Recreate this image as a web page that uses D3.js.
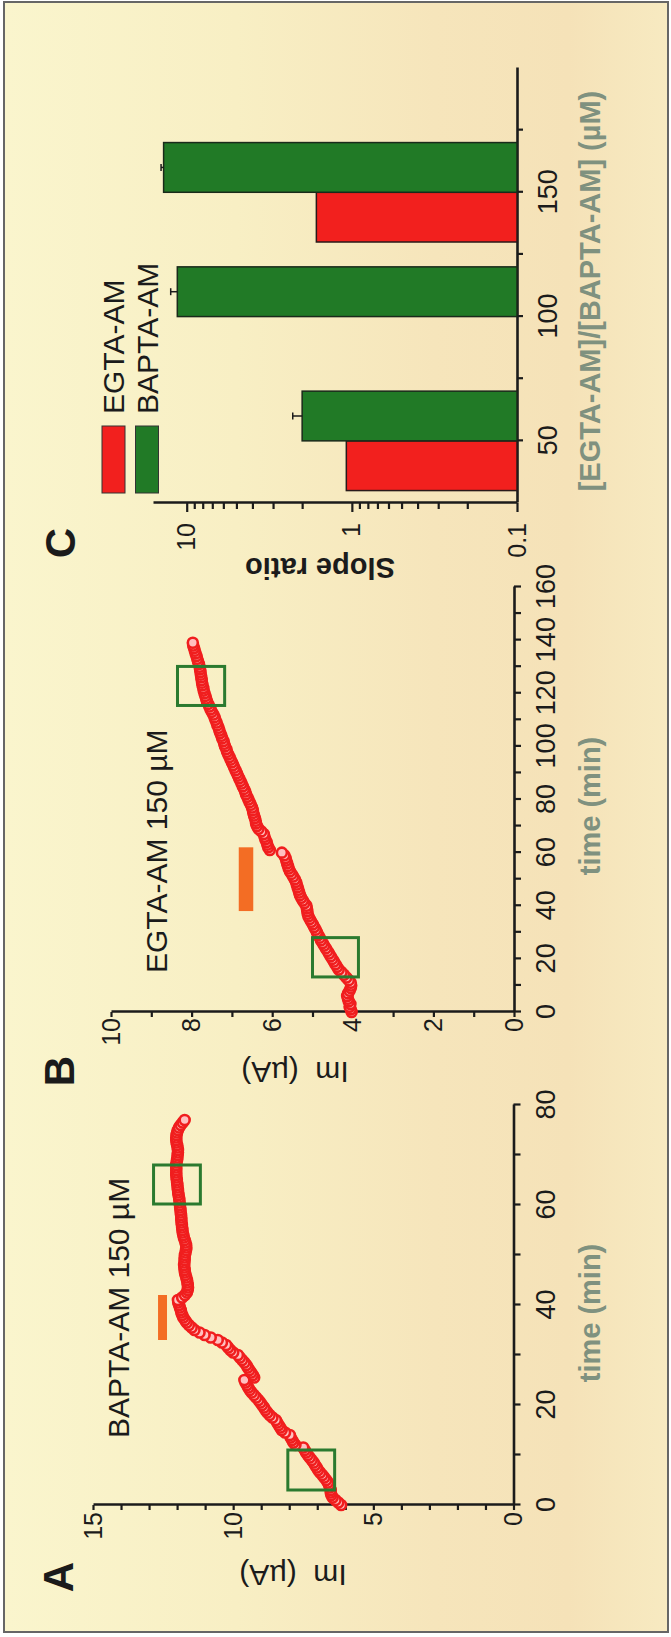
<!DOCTYPE html>
<html><head><meta charset="utf-8">
<script src="https://cdn.jsdelivr.net/npm/d3@7"></script>
<style>
body{margin:0;background:#fff;}
svg{display:block;font-family:"Liberation Sans",Arial,Helvetica,sans-serif;}
</style></head><body>
<svg id="chart" width="671" height="1637"></svg>
<script>
// ---------------- DATA ----------------
// Panel A: BAPTA-AM 150 µM (time in min, Im in µA)
const timeA = [0,0.5,1,1.5,2,2.5,3,3.5,4,4.5,5,5.5,6,6.5,7,7.5,8,8.5,9,9.5,10,10.5,11,11.5,12,12.5,13,13.5,14,14.5,15,15.5,16,16.5,17,17.5,18,18.5,19,19.5,20,20.5,21,21.5,22,22.5,23,23.5,24,24.5,25,25.5,26,26.5,27,27.5,28,28.5,29,29.5,30,30.5,31,31.5,32,32.5,33,33.5,34,34.5,35,35.5,36,36.5,37,37.5,38,38.5,39,39.5,40,40.5,41,41.5,42,42.5,43,43.5,44,44.5,45,45.5,46,46.5,47,47.5,48,48.5,49,49.5,50,50.5,51,51.5,52,52.5,53,53.5,54,54.5,55,55.5,56,56.5,57,57.5,58,58.5,59,59.5,60,60.5,61,61.5,62,62.5,63,63.5,64,64.5,65,65.5,66,66.5,67,67.5,68,68.5,69,69.5,70,70.5,71,71.5,72,72.5,73,73.5,74,74.5,75,75.5,76,76.5,77];
const imA = [6.15,6.25,6.35,6.45,6.5,6.52,6.52,6.55,6.58,6.62,
6.68,6.75,6.82,6.9,6.97,7.02,7.08,7.13,7.2,7.27,
7.34,7.4,7.45,7.5,7.78,7.85,7.9,7.95,7.98,8.15,
8.27,8.32,8.38,8.43,8.48,8.6,8.7,8.78,8.85,8.9,
8.97,9.03,9.1,9.18,9.26,9.34,9.41,9.46,9.51,9.56,
9.6,9.25,9.3,9.36,9.42,9.48,9.53,9.6,9.68,9.76,
9.83,10.0,10.1,10.18,10.25,10.4,10.55,10.8,11.02,11.2,
11.38,11.48,11.58,11.66,11.72,11.78,11.82,11.85,11.87,11.9,
11.93,11.96,11.97,11.82,11.72,11.65,11.62,11.61,11.62,11.63,
11.65,11.67,11.7,11.72,11.73,11.74,11.75,11.74,11.73,11.73,
11.72,11.7,11.68,11.67,11.68,11.7,11.73,11.76,11.78,11.8,
11.81,11.82,11.83,11.84,11.85,11.85,11.86,11.87,11.88,11.89,
11.9,11.91,11.92,11.93,11.95,11.96,11.97,11.98,11.99,12.0,
12.01,12.02,12.03,12.03,12.03,12.03,12.03,12.02,12.0,11.99,
11.98,11.97,11.97,11.98,12.0,12.02,12.03,12.03,12.02,12.0,
11.97,11.93,11.87,11.8,11.73];

// Panel B: EGTA-AM 150 µM
const timeB = [0,1,2,3,4,5,6,7,8,9,10,11,12,13,14,15,16,17,18,19,20,21,22,23,24,25,26,27,28,29,30,31,32,33,34,35,36,37,38,39,40,41,42,43,44,45,46,47,48,49,50,51,52,53,54,55,56,57,58,59,60,61,62,63,64,65,66,67,68,69,70,71,72,73,74,75,76,77,78,79,80,81,82,83,84,85,86,87,88,89,90,91,92,93,94,95,96,97,98,99,100,101,102,103,104,105,106,107,108,109,110,111,112,113,114,115,116,117,118,119,120,121,122,123,124,125,126,127,128,129,130,131,132,133,134,135,136,137,138,139];
const imB = [4.03,4.05,4.08,4.06,4.1,4.12,4.14,4.12,4.08,4.05,
4.04,4.05,4.1,4.16,4.22,4.28,4.35,4.39,4.43,4.47,
4.51,4.55,4.59,4.63,4.67,4.71,4.75,4.79,4.82,4.86,
4.89,4.92,4.96,4.99,5.03,5.07,5.1,5.12,5.13,5.14,
5.15,5.2,5.24,5.28,5.31,5.33,5.35,5.37,5.39,5.41,
5.44,5.48,5.52,5.56,5.59,5.61,5.63,5.65,5.67,5.7,
5.76,6.06,6.1,6.12,6.14,6.17,6.19,6.21,6.27,6.34,
6.38,6.4,6.41,6.43,6.45,6.47,6.48,6.5,6.53,6.56,
6.59,6.62,6.65,6.67,6.7,6.73,6.76,6.79,6.82,6.85,
6.88,6.91,6.94,6.97,7.0,7.03,7.06,7.09,7.12,7.14,
7.17,7.19,7.21,7.24,7.26,7.29,7.31,7.33,7.36,7.38,
7.41,7.43,7.46,7.5,7.53,7.56,7.59,7.62,7.64,7.66,
7.68,7.7,7.71,7.73,7.74,7.75,7.76,7.77,7.78,7.79,
7.8,7.82,7.84,7.86,7.88,7.9,7.92,7.94,7.96,7.97];

// analysis windows (green boxes) [t0, t1, im0, im1] and drug application bars
const boxesA = [[3,11,6.38,8.05],[60.2,68,11.17,12.84]];
const boxesB = [[13.2,28,3.86,5.0],[115.4,130.1,7.18,8.35]];
const drugA = [33,42,12.36,12.68];
const drugB = [38,62,6.47,6.83];

// Panel C: slope ratio
const concentrations = [50,100,150];
const egtaRatio = [1.08,null,1.64];
const baptaRatio = [2.0,11.4,13.8];
const baptaErr = [0.28,1.1,0.5];
const seriesNames = ["EGTA-AM","BAPTA-AM"];

// ticks
const aTimeTicks = [0,10,20,30,40,50,60,70,80];
const aTimeLabels = [0,20,40,60,80];
const aImTicks = [0,1,2,3,4,5,6,7,8,9,10,11,12,13,14,15];
const aImLabels = [0,5,10,15];
const bTimeTicks = [0,10,20,30,40,50,60,70,80,90,100,110,120,130,140,150,160];
const bTimeLabels = [0,20,40,60,80,100,120,140,160];
const bImTicks = [0,1,2,3,4,5,6,7,8,9,10];
const bImLabels = [0,2,4,6,8,10];
const cConcTicks = [50,75,100,125,150,175];
const cConcLabels = [50,100,150];
const cRatioMajor = [0.1,1,10];
const cRatioMinor = [0.2,0.3,0.4,0.5,0.6,0.7,0.8,0.9,2,3,4,5,6,7,8,9];

// ---------------- DRAW ----------------
const svg = d3.select("#chart");
const defs = svg.append("defs");
const grad = defs.append("linearGradient").attr("id","bg").attr("x1","0").attr("x2","1").attr("y1","0").attr("y2","0");
[["0%","#faf5cd"],["35%","#f8efc4"],["65%","#f6e5bb"],["85%","#f5e2b8"],["100%","#f7eac1"]]
  .forEach(s=>grad.append("stop").attr("offset",s[0]).attr("stop-color",s[1]));
svg.append("rect").attr("x",4).attr("y",2).attr("width",664).attr("height",1630)
  .attr("fill","url(#bg)").attr("stroke","#666").attr("stroke-width",2);

const W = 1637;
const g = svg.append("g").attr("transform",`translate(0,${W}) rotate(-90)`);

const INK = "#1b1b1b";
const FS_TICK = 25;
const titleColor = "#7f917f";

function styleAxis(sel, fs){
  sel.select(".domain").attr("stroke",INK).attr("stroke-width",2.6);
  sel.selectAll(".tick line").attr("stroke",INK).attr("stroke-width",2.2);
  sel.selectAll("text").attr("font-size",fs||FS_TICK).attr("fill",INK)
     .attr("font-family",'"Liberation Sans",Arial,sans-serif');
  sel.attr("font-family",null).attr("font-size",null);
}

function timePanel(opts){
  const x = d3.scaleLinear().domain(opts.xDomain).range(opts.xRange);
  const y = d3.scaleLinear().domain(opts.yDomain).range(opts.yRange);
  const gx = g.append("g").attr("transform",`translate(0,${y(0)})`)
    .call(d3.axisBottom(x).tickValues(opts.xTicks).tickSize(7).tickSizeOuter(0).tickPadding(15)
      .tickFormat(d=>opts.xLabels.includes(d)?d:""));
  styleAxis(gx, 27);
  const gy = g.append("g").attr("transform",`translate(${x(0)},0)`)
    .call(d3.axisLeft(y).tickValues(opts.yTicks).tickSize(5).tickSizeOuter(0).tickPadding(opts.yPad)
      .tickFormat(d=>opts.yLabels.includes(d)?d:""));
  styleAxis(gy);
  // drug bar
  g.append("rect").attr("x",x(opts.drug[0])).attr("width",x(opts.drug[1])-x(opts.drug[0]))
    .attr("y",y(opts.drug[3])).attr("height",y(opts.drug[2])-y(opts.drug[3]))
    .attr("fill","#f36d24");
  // points
  const pts = opts.t.map((t,i)=>[t,opts.v[i]]);
  g.append("g").selectAll("circle").data(pts).join("circle")
    .attr("cx",d=>x(d[0])).attr("cy",d=>y(d[1])).attr("r",5)
    .attr("fill","#ffc0c0").attr("stroke","#f01e1e").attr("stroke-width",2.6);
  // boxes
  g.append("g").selectAll("rect").data(opts.boxes).join("rect")
    .attr("x",d=>x(d[0])).attr("width",d=>x(d[1])-x(d[0]))
    .attr("y",d=>y(d[3])).attr("height",d=>y(d[2])-y(d[3]))
    .attr("fill","none").attr("stroke","#2b7a2f").attr("stroke-width",3);
  return {x,y};
}

// Panel A
timePanel({xDomain:[0,80],xRange:[132,532],yDomain:[0,15],yRange:[513.5,93],
  xTicks:aTimeTicks,xLabels:aTimeLabels,yTicks:aImTicks,yLabels:aImLabels,yPad:2,
  t:timeA,v:imA,boxes:boxesA,drug:drugA});
// Panel B
timePanel({xDomain:[0,160],xRange:[625,1050],yDomain:[0,10],yRange:[514,111],
  xTicks:bTimeTicks,xLabels:bTimeLabels,yTicks:bImTicks,yLabels:bImLabels,yPad:1,
  t:timeB,v:imB,boxes:boxesB,drug:drugB});

// Panel C
const xC = d3.scaleLinear().domain([25,200]).range([1134,1569]);
const yC = d3.scaleLog().domain([0.1,16]).range([517,153]);
const barW = 20;
const gxc = g.append("g").attr("transform",`translate(0,${yC(0.1)})`)
  .call(d3.axisBottom(xC).tickValues(cConcTicks).tickSize(6).tickSizeOuter(0).tickPadding(15)
    .tickFormat(d=>cConcLabels.includes(d)?d:""));
styleAxis(gxc, 27);
const gyc = g.append("g").attr("transform",`translate(${xC(25)},0)`)
  .call(d3.axisLeft(yC).tickValues(cRatioMajor).tickSize(9).tickSizeOuter(0).tickPadding(11)
    .tickFormat(d=>d===0.1?"0.1":String(d)));
styleAxis(gyc);
const gycm = g.append("g").attr("transform",`translate(${xC(25)},0)`)
  .call(d3.axisLeft(yC).tickValues(cRatioMinor).tickSize(6).tickSizeOuter(0).tickFormat(""));
styleAxis(gycm);
gycm.select(".domain").remove();

const RED = "#f2201e", GREEN = "#217a26";
concentrations.forEach((c,i)=>{
  if(egtaRatio[i]!=null){
    g.append("rect").attr("x",xC(c-barW)).attr("width",xC(c)-xC(c-barW))
      .attr("y",yC(egtaRatio[i])).attr("height",yC(0.1)-yC(egtaRatio[i]))
      .attr("fill",RED).attr("stroke","#2a1a1a").attr("stroke-width",1.5);
  }
  g.append("rect").attr("x",xC(c)).attr("width",xC(c+barW)-xC(c))
    .attr("y",yC(baptaRatio[i])).attr("height",yC(0.1)-yC(baptaRatio[i]))
    .attr("fill",GREEN).attr("stroke","#1a2a1a").attr("stroke-width",1.5);
  const cx = xC(c+barW/2);
  const top = yC(baptaRatio[i]+baptaErr[i]);
  g.append("line").attr("x1",cx).attr("x2",cx).attr("y1",yC(baptaRatio[i])).attr("y2",top)
    .attr("stroke",INK).attr("stroke-width",1.5);
  g.append("line").attr("x1",cx-3.5).attr("x2",cx+3.5).attr("y1",top).attr("y2",top)
    .attr("stroke",INK).attr("stroke-width",1.5);
});

// legend
const legColors = [RED,GREEN];
seriesNames.forEach((n,i)=>{
  const vc = [113.5,147][i];
  g.append("rect").attr("x",1144).attr("y",vc-11.5).attr("width",67).attr("height",23)
    .attr("fill",legColors[i]).attr("stroke","#333").attr("stroke-width",1);
  g.append("text").attr("x",1223).attr("y",vc+10.5).attr("font-size",30).attr("fill",INK).text(n);
});

// text labels
function txt(s,u,v,opt={}){
  const t = g.append("text").attr("x",u).attr("y",v).text(s)
    .attr("font-size",opt.fs||29).attr("fill",opt.fill||INK)
    .attr("text-anchor",opt.anchor||"start");
  if(opt.bold) t.attr("font-weight","bold");
  if(opt.rot) t.attr("transform",`rotate(-90,${u},${v})`);
  t.style("white-space","pre");
  return t;
}
txt("A",60,72.5,{fs:42,bold:true,anchor:"middle"});
txt("B",566,74,{fs:42,bold:true,anchor:"middle"});
txt("C",1094,75,{fs:42,bold:true,anchor:"middle"});
txt("BAPTA-AM 150 \u00b5M",199,129,{fs:30});
txt("EGTA-AM 150 \u00b5M",664,167,{fs:30});
txt("Im  (\u00b5A)",72,293,{fs:30,anchor:"middle",rot:true});
txt("Im  (\u00b5A)",575,295,{fs:30,anchor:"middle",rot:true});
txt("Slope ratio",1079,320,{fs:29,bold:true,anchor:"middle",rot:true});
txt("time (min)",324,600,{fs:29,bold:true,anchor:"middle",fill:titleColor});
txt("time (min)",831,600,{fs:29,bold:true,anchor:"middle",fill:titleColor});
txt("[EGTA-AM]/[BAPTA-AM] (\u00b5M)",1346,600,{fs:29,bold:true,anchor:"middle",fill:titleColor});
</script>
</body></html>
